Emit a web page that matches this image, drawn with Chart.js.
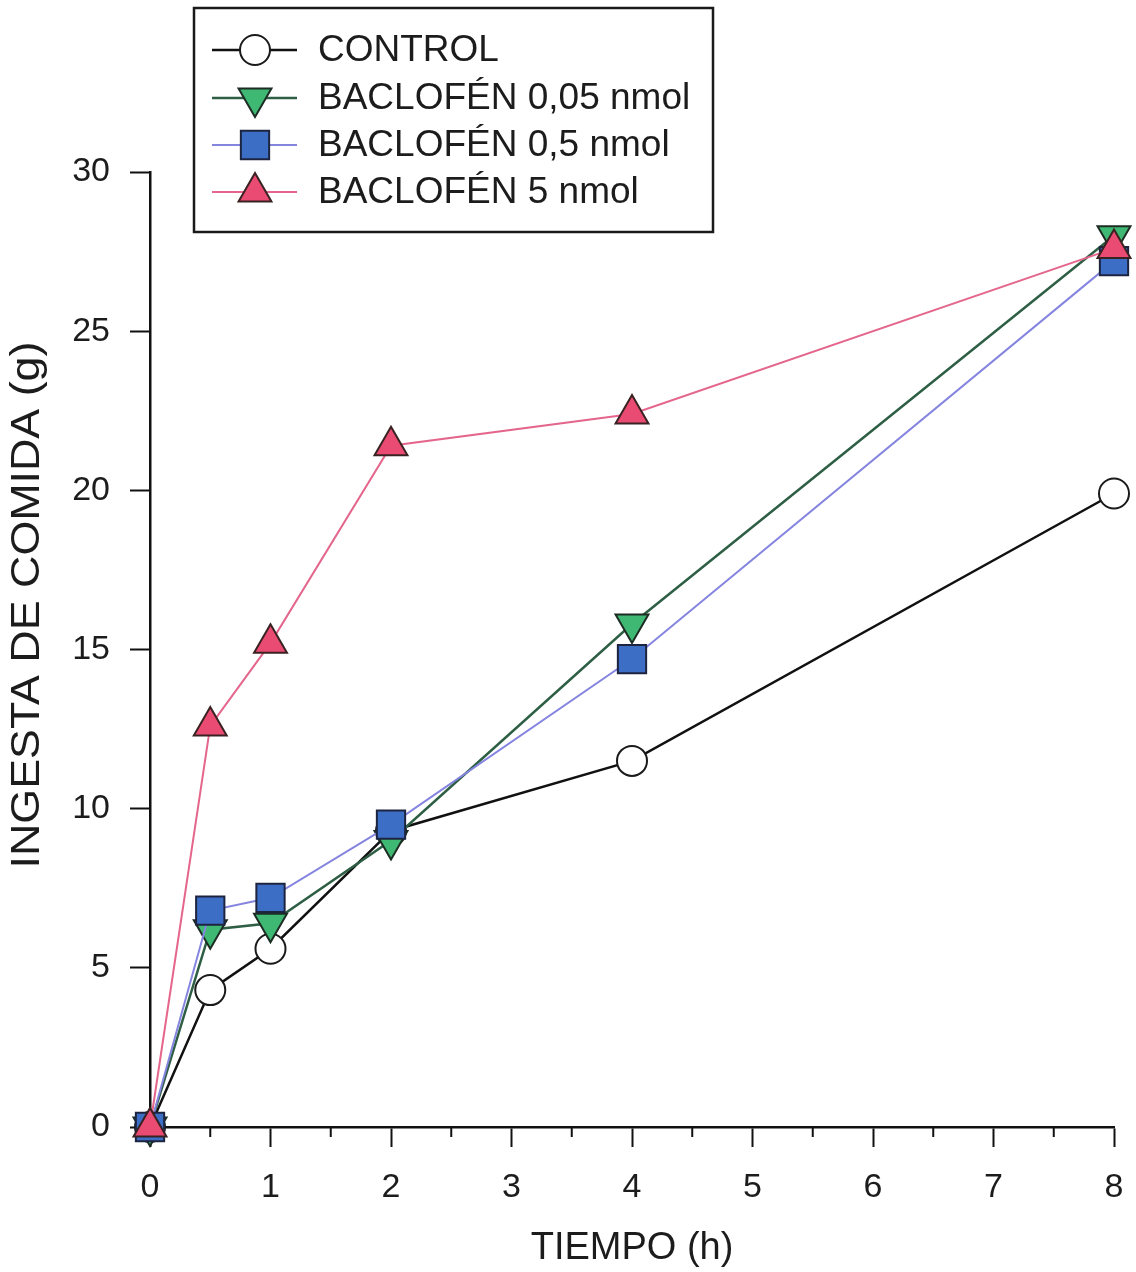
<!DOCTYPE html>
<html>
<head>
<meta charset="utf-8">
<script src="https://cdn.jsdelivr.net/npm/chart.js@4.4.1/dist/chart.umd.min.js"></script>
<style>
  html, body { margin: 0; padding: 0; background: #ffffff; }
  #wrap { width: 1136px; height: 1272px; position: relative; }
</style>
</head>
<body>
<div id="wrap"><canvas id="c" width="1136" height="1272"></canvas></div>
<script>
// ---- Data ----
const timesH = [0, 0.5, 1, 2, 4, 8];
const seriesNames = ['CONTROL', 'BACLOFÉN 0,05 nmol', 'BACLOFÉN 0,5 nmol', 'BACLOFÉN 5 nmol'];
const control   = [0, 4.3, 5.6, 9.3, 11.5, 19.9];
const baclo005  = [0, 6.2, 6.4, 9.0, 15.8, 28.0];
const baclo05   = [0, 6.8, 7.2, 9.5, 14.7, 27.2];
const baclo5    = [0, 12.6, 15.2, 21.4, 22.4, 27.6];
const xTickValues = [0, 1, 2, 3, 4, 5, 6, 7, 8];
const yTickValues = [0, 5, 10, 15, 20, 25, 30];
const xTitle = 'TIEMPO (h)';
const yTitle = 'INGESTA DE COMIDA (g)';

const FONT = '"Liberation Sans", Arial, Helvetica, sans-serif';
const TEXT = '#1c1c1c';

function pts(vals) { return timesH.map((t, i) => ({ x: t, y: vals[i] })); }

const datasets = [
  { label: seriesNames[0], data: pts(control), borderColor: '#111111', borderWidth: 2.5,
    pointStyle: 'circle', pointRadius: 15, pointBackgroundColor: '#ffffff',
    pointBorderColor: '#1a1a1a', pointBorderWidth: 2, pointRotation: 0, order: 4 },
  { label: seriesNames[1], data: pts(baclo005), borderColor: '#2e5f45', borderWidth: 2.5,
    pointStyle: 'triangle', pointRotation: 180, pointRadius: 19, pointBackgroundColor: '#3fb873',
    pointBorderColor: '#1d2d24', pointBorderWidth: 2, order: 3 },
  { label: seriesNames[2], data: pts(baclo05), borderColor: '#8585e0', borderWidth: 2,
    pointStyle: 'rect', pointRadius: 20, pointBackgroundColor: '#3d6ec5',
    pointBorderColor: '#1c2440', pointBorderWidth: 2, pointRotation: 0, order: 2 },
  { label: seriesNames[3], data: pts(baclo5), borderColor: '#e4668c', borderWidth: 2,
    pointStyle: 'triangle', pointRadius: 19, pointBackgroundColor: '#e94b72',
    pointBorderColor: '#3a2222', pointBorderWidth: 2, pointRotation: 0, order: 1 }
];
datasets.forEach(d => { d.fill = false; d.tension = 0; d.clip = false; d.pointHoverRadius = d.pointRadius; });

function drawMarker(ctx, style, r, rot, x, y, fill, stroke, bw) {
  ctx.save();
  ctx.translate(x, y);
  ctx.rotate(rot * Math.PI / 180);
  ctx.beginPath();
  if (style === 'circle') {
    ctx.arc(0, 0, r, 0, Math.PI * 2);
  } else if (style === 'rect') {
    const s = Math.SQRT1_2 * r;
    ctx.rect(-s, -s, 2 * s, 2 * s);
  } else if (style === 'triangle') {
    ctx.moveTo(0, -r);
    ctx.lineTo(r * Math.sin(Math.PI / 3), r / 2);
    ctx.lineTo(-r * Math.sin(Math.PI / 3), r / 2);
    ctx.closePath();
  }
  ctx.fillStyle = fill; ctx.fill();
  ctx.lineWidth = bw; ctx.strokeStyle = stroke; ctx.stroke();
  ctx.restore();
}

const decorPlugin = {
  id: 'decor',
  afterDraw(chart) {
    const ctx = chart.ctx;
    const xs = chart.scales.x;
    // minor ticks on x axis
    ctx.save();
    ctx.strokeStyle = '#111'; ctx.lineWidth = 2;
    for (let v = 0.5; v < 8; v += 1) {
      const px = xs.getPixelForValue(v);
      ctx.beginPath(); ctx.moveTo(px, xs.top); ctx.lineTo(px, xs.top + 10); ctx.stroke();
    }
    ctx.restore();

    // y axis title
    ctx.save();
    ctx.translate(28, 605);
    ctx.rotate(-Math.PI / 2);
    ctx.font = '40px ' + FONT;
    ctx.fillStyle = TEXT;
    ctx.textAlign = 'center';
    ctx.textBaseline = 'middle';
    ctx.scale(1.12, 1);
    ctx.fillText(yTitle, 0, 0);
    ctx.restore();

    // legend box
    ctx.save();
    ctx.fillStyle = '#ffffff';
    ctx.fillRect(194, 8, 519, 224);
    ctx.strokeStyle = '#1a1a1a'; ctx.lineWidth = 2.5;
    ctx.strokeRect(194, 8, 519, 224);
    const rows = [50, 98, 145, 192];
    chart.data.datasets.forEach((d, i) => {
      const y = rows[i];
      ctx.beginPath(); ctx.moveTo(212, y); ctx.lineTo(297, y);
      ctx.strokeStyle = d.borderColor; ctx.lineWidth = d.borderWidth; ctx.stroke();
      drawMarker(ctx, d.pointStyle, d.pointRadius, d.pointRotation || 0, 255, y,
        d.pointBackgroundColor, d.pointBorderColor, d.pointBorderWidth);
      ctx.font = '37px ' + FONT;
      ctx.fillStyle = TEXT;
      ctx.textAlign = 'left'; ctx.textBaseline = 'middle';
      ctx.fillText(d.label, 318, y + 1);
    });
    ctx.restore();
  }
};

new Chart(document.getElementById('c'), {
  type: 'line',
  data: { datasets },
  options: {
    responsive: false,
    animation: false,
    events: [],
    layout: { padding: { top: 172, right: 21, left: 0, bottom: 0 } },
    plugins: { legend: { display: false }, tooltip: { enabled: false } },
    scales: {
      x: {
        type: 'linear', min: 0, max: 8,
        afterFit(s) { s.height = 145; s.paddingLeft = 0; s.paddingRight = 0; },
        afterBuildTicks(s) { s.ticks = xTickValues.map(v => ({ value: v })); },
        ticks: { font: { size: 34, family: FONT }, color: TEXT, padding: 20, maxRotation: 0 },
        grid: { drawOnChartArea: false, drawTicks: true, tickLength: 20, color: '#111', tickWidth: 2 },
        border: { display: true, color: '#111', width: 2.5 },
        title: { display: true, text: xTitle, color: TEXT, font: { size: 38, family: FONT }, padding: { top: 0, bottom: 1 } }
      },
      y: {
        type: 'linear', min: 0, max: 30,
        afterFit(s) { s.width = 150; s.paddingTop = 0; s.paddingBottom = 0; },
        afterBuildTicks(s) { s.ticks = yTickValues.map(v => ({ value: v })); },
        ticks: { font: { size: 34, family: FONT }, color: TEXT, padding: 20 },
        grid: { drawOnChartArea: false, drawTicks: true, tickLength: 20, color: '#111', tickWidth: 2 },
        border: { display: true, color: '#111', width: 2.5 }
      }
    }
  },
  plugins: [decorPlugin]
});
</script>
</body>
</html>
